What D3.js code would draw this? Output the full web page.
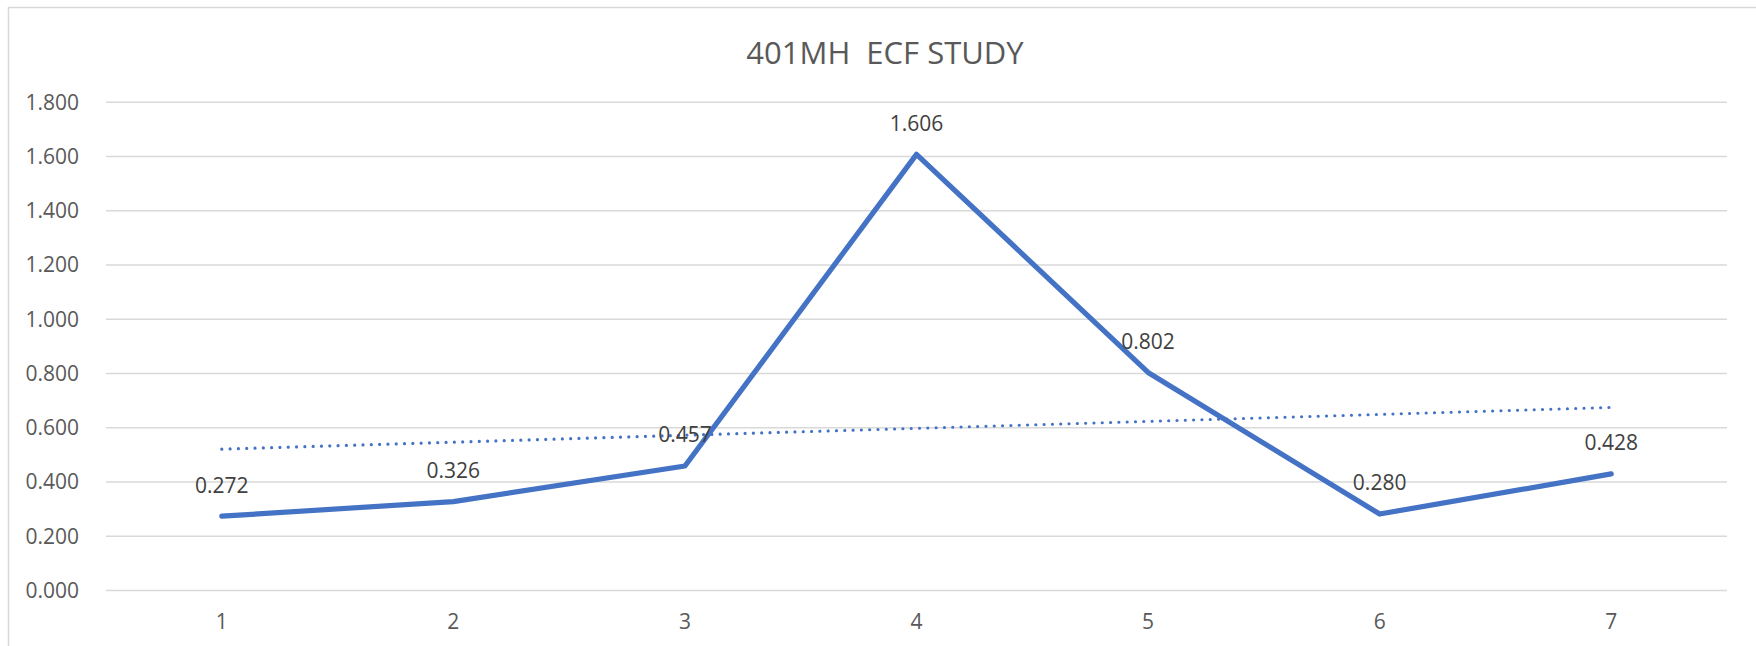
<!DOCTYPE html>
<html><head><meta charset="utf-8">
<script src="https://cdn.jsdelivr.net/npm/d3@7"></script>
<style>
html,body{margin:0;padding:0;background:#fff;}
svg{display:block;}
text{white-space:pre;}
</style></head>
<body>
<svg id="chart" width="1756" height="646"></svg>
<script>
const title = "401MH  ECF STUDY";
const categories = ["1","2","3","4","5","6","7"];
const values = [0.272, 0.326, 0.457, 1.606, 0.802, 0.280, 0.428];
const trendValues = [0.519, 0.673]; // linear trendline, at first and last category
const yTicks = [0, 0.2, 0.4, 0.6, 0.8, 1.0, 1.2, 1.4, 1.6, 1.8];

const W = 1756, H = 646;
const svg = d3.select("#chart");
const font = "'Open Sans', sans-serif";

// chart border (top & left visible)
svg.append("rect").attr("x", 8.5).attr("y", 7.5).attr("width", W + 20).attr("height", H + 20)
  .attr("fill", "#fff").attr("stroke", "#d9d9d9").attr("stroke-width", 1.5);

const plot = {left: 106, right: 1727, top: 101.7, bottom: 590};

const x = d3.scaleBand().domain(categories).range([plot.left, plot.right]).padding(0);
const y = d3.scaleLinear().domain([0, 1.8]).range([plot.bottom, plot.top]);
const cx = c => x(c) + x.bandwidth() / 2;

// gridlines
const gy = d3.axisLeft(y).tickValues(yTicks).tickSize(-(plot.right - plot.left)).tickFormat("");
const gridG = svg.append("g").attr("transform", `translate(${plot.left},0)`).call(gy);
gridG.select(".domain").remove();
gridG.selectAll("line").attr("stroke", "#d9d9d9").attr("stroke-width", 1.4);

// y labels
const yAxis = d3.axisLeft(y).tickValues(yTicks).tickSize(0).tickPadding(0).tickFormat(d3.format(".3f"));
const yG = svg.append("g").attr("transform", `translate(79,0)`).call(yAxis);
yG.select(".domain").remove();
yG.selectAll("text").attr("font-family", font).attr("font-size", 21).attr("fill", "#595959")
  .attr("dy", "0.35em");

// x labels
const xAxis = d3.axisBottom(x).tickSize(0).tickPadding(0);
const xG = svg.append("g").attr("transform", `translate(0,${plot.bottom})`).call(xAxis);
xG.select(".domain").remove();
xG.selectAll("text").attr("font-family", font).attr("font-size", 21).attr("fill", "#595959")
  .attr("y", 31.7).attr("dy", "0.35em");

// title
svg.append("text").attr("x", 885).attr("y", 64).attr("text-anchor", "middle")
  .attr("xml:space", "preserve")
  .attr("font-family", font).attr("font-size", 31).attr("fill", "#595959").text(title);

// trendline
const trendPts = [[cx(categories[0]), y(trendValues[0])], [cx(categories[categories.length - 1]), y(trendValues[1])]];
svg.append("path").attr("d", d3.line()(trendPts)).attr("fill", "none")
  .attr("stroke", "#4472c4").attr("stroke-width", 3.2).attr("stroke-linecap", "round")
  .attr("stroke-dasharray", "0.01 8.3");

// main line
const line = d3.line().x((d, i) => cx(categories[i])).y(d => y(d));
svg.append("path").datum(values).attr("d", line).attr("fill", "none")
  .attr("stroke", "#4472c4").attr("stroke-width", 5.2).attr("stroke-linejoin", "round")
  .attr("stroke-linecap", "round");

// data labels
svg.append("g").selectAll("text").data(values).join("text")
  .attr("x", (d, i) => cx(categories[i])).attr("y", d => y(d) - 31)
  .attr("dy", "0.35em").attr("text-anchor", "middle")
  .attr("font-family", font).attr("font-size", 21).attr("fill", "#404040")
  .text(d => d3.format(".3f")(d));
</script>
</body></html>
